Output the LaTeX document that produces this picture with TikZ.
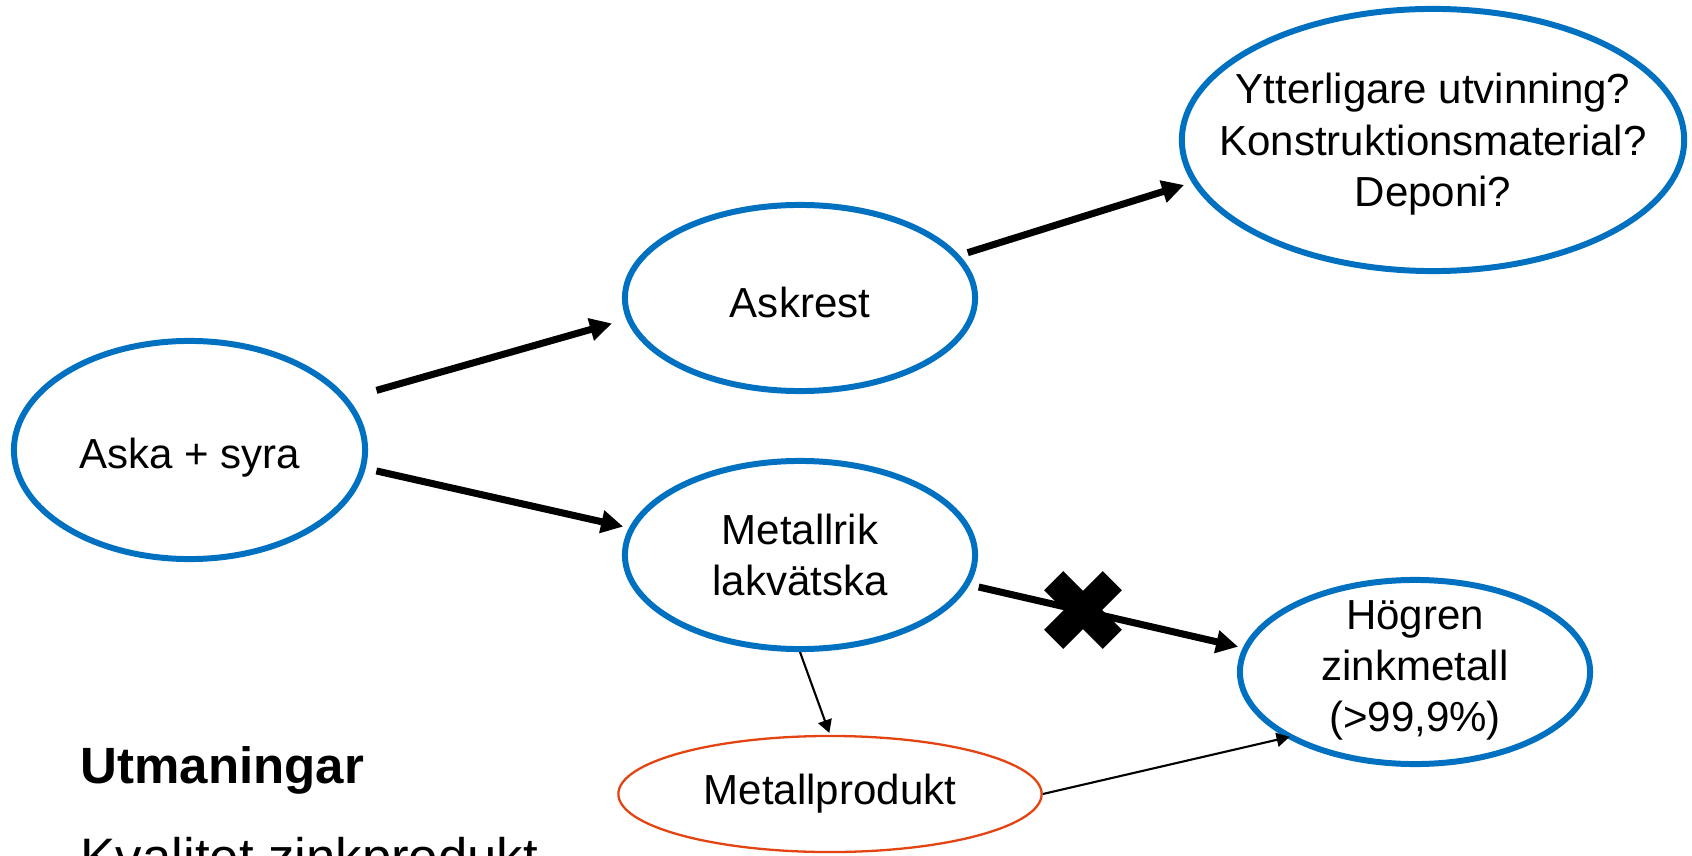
\documentclass[tikz,border=0pt]{standalone}
\usepackage{fontspec}
\setmainfont{Liberation Sans}
\usetikzlibrary{shapes.geometric,arrows.meta}
\definecolor{nodeblue}{RGB}{0,112,192}
\definecolor{prodred}{RGB}{228,68,18}
\begin{document}
\begin{tikzpicture}[x=0.01cm,y=-0.01cm,
  ell/.style={ellipse, draw=nodeblue, line width=1.7pt, minimum width=3.50cm, minimum height=1.86cm, inner sep=0pt},
  prod/.style={ellipse, draw=prodred, line width=0.65pt, inner sep=0pt},
  txt/.style={align=center, inner sep=0pt, font=\fontsize{11.95pt}{14.6pt}\selectfont},
  bigarrow/.style={-{Triangle[length=0.22cm,width=0.22cm]}, line width=2pt},
  smallarrow/.style={-{Triangle[length=0.13cm,width=0.14cm]}, line width=0.6pt},
  crossbar/.style={fill=black}
]
\fill[white] (0,0) rectangle (1692,855);
\useasboundingbox (0,0) rectangle (1692,855);
\clip (0,0) rectangle (1692,855);

% ellipses
\node[ell, minimum width=3.51cm, minimum height=2.18cm] (aska) at (189.5,450) {};
\node[ell] (askrest) at (800,298) {};
\node[ell, minimum height=1.88cm] (metallrik) at (800,555) {};
\node[ell, minimum width=5.02cm, minimum height=2.62cm] (ytter) at (1433,140) {};
\node[ell, minimum height=1.84cm] (hogren) at (1415,672) {};
\node[prod, minimum width=4.23cm, minimum height=1.16cm] (mprod) at (830,794) {};

% texts
\node[txt, yshift=-2.3pt] (aska-t) at (aska) {Aska + syra};
\node[txt, yshift=-1.4pt] (askrest-t) at (askrest) {Askrest};
\node[txt] (metallrik-t) at (metallrik) {Metallrik\\lakvätska};
\node[txt, yshift=-1.2pt] (ytter-t) at (ytter) {Ytterligare utvinning?\\Konstruktionsmaterial?\\Deponi?};
\node[txt, yshift=0.5pt] (hogren-t) at (hogren) {Högren\\zinkmetall\\(>99,9\%)};
\node[txt] (mprod-t) at (mprod) {Metallprodukt};

% connectors
\draw[bigarrow, shorten <=0.295cm, shorten >=0.15cm] (aska.18) -- (askrest.187);
\draw[bigarrow, shorten <=0.11cm, shorten >=0.06cm] (aska.354) -- (metallrik.171);
\draw[bigarrow, shorten <=0.086cm, shorten >=0.083cm] (askrest.15) -- (ytter.190);
\draw[bigarrow, shorten <=0.095cm, shorten >=0.048cm] (metallrik.350) -- (hogren.172);
\draw[smallarrow, shorten >=0.02cm] (metallrik.south) -- (mprod.north);
\draw[smallarrow, shorten >=-0.035cm] (mprod.east) -- (hogren.207);

% cross mark
\fill[crossbar, rotate around={45:(1083,610)}] (1041.5,596.5) rectangle (1124.5,623.5);
\fill[crossbar, rotate around={-45:(1083,610)}] (1041.5,596.5) rectangle (1124.5,623.5);

% bottom text
\node[anchor=base west, inner sep=0pt, font=\fontsize{14.5pt}{17pt}\selectfont\bfseries] (utm) at (80,783) {Utmaningar};
\node[anchor=base west, inner sep=0pt, font=\fontsize{15pt}{18pt}\selectfont] (kval) at (80,875) {Kvalitet zinkprodukt};
\end{tikzpicture}
\end{document}
